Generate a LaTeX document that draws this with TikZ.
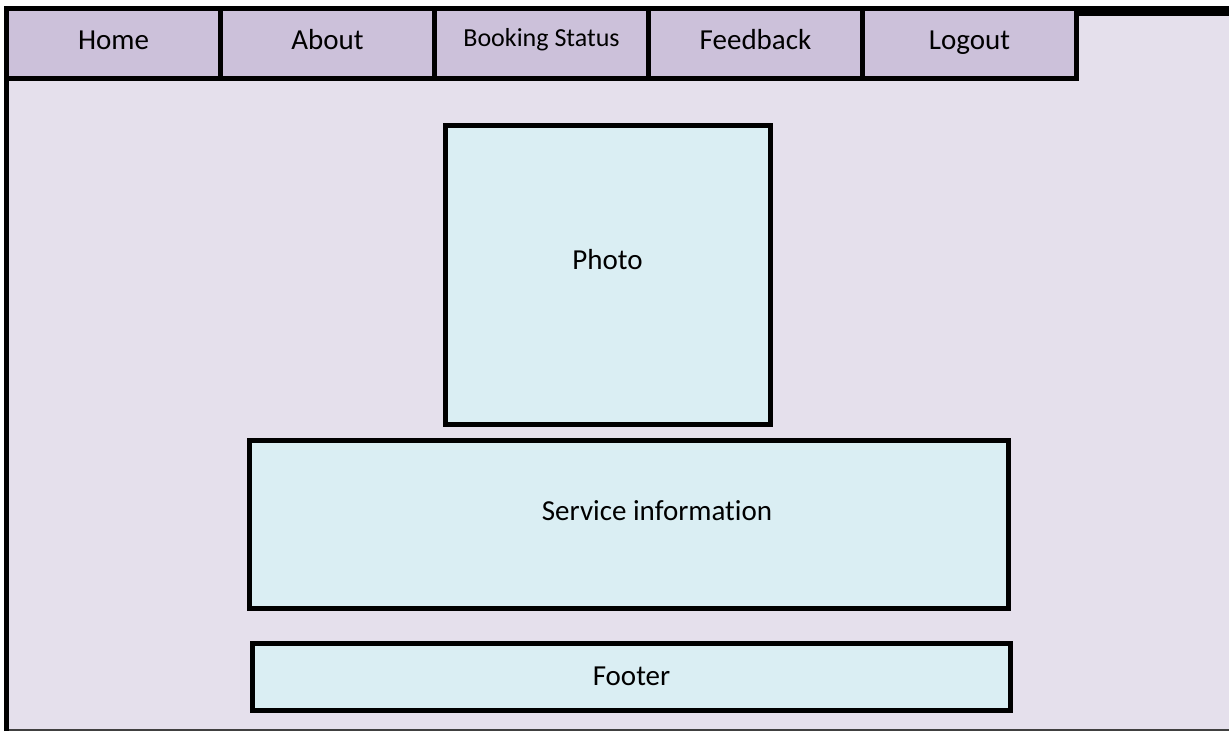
\documentclass[tikz,border=0pt]{standalone}
\usepackage{fontspec}
\setmainfont{Carlito}[Ligatures={NoCommon}]
\definecolor{tabfill}{HTML}{CCC1DA}
\definecolor{pagefill}{HTML}{E5E0EC}
\definecolor{boxfill}{HTML}{DAEEF3}
\definecolor{edgegray}{HTML}{404040}
\begin{document}
\begin{tikzpicture}[x=1pt,y=-1pt,
  tabbox/.style={draw=black, line width=5pt, fill=tabfill, minimum width=214pt, minimum height=70.5pt, inner sep=0pt, outer sep=0pt, anchor=north west},
  panel/.style={draw=black, line width=5pt, fill=boxfill, inner sep=0pt, outer sep=0pt, anchor=north west},
  lbl/.style={anchor=base, inner sep=0pt, font=\fontsize{29}{35}\selectfont},
  smalllbl/.style={anchor=base, inner sep=0pt, font=\fontsize{26}{31}\selectfont}
]
\useasboundingbox (0,0) rectangle (1229,731);
% page
\fill[pagefill] (6.5,8) rectangle (1229,731);
\draw[edgegray, line width=1.5pt] (6.5,730) -- (1229,730);
\draw[black, line width=5pt] (6.5,731) -- (6.5,8);
\draw[black, line width=5pt] (4,8) -- (1229,8);
% tabs
\node[tabbox] (home) at (6.5,8) {};
\node[tabbox] (about) at (220.5,8) {};
\node[tabbox] (booking) at (434.5,8) {};
\node[tabbox] (feedback) at (648.5,8) {};
\node[tabbox] (logout) at (862.5,8) {};
\coordinate (edgeR) at (1229,13);
\draw[black, line width=5pt] (logout.north east |- edgeR) -- (edgeR);
\node[lbl] (thome) at ([yshift=-6.25pt]home.center) {Home};
\node[lbl] (tabout) at ([yshift=-6.25pt]about.center) {About};
\node[smalllbl] (tbooking) at ([yshift=-2.75pt]booking.center) {Booking Status};
\node[lbl] (tfeedback) at ([yshift=-6.25pt]feedback.center) {Feedback};
\node[lbl] (tlogout) at ([yshift=-6.25pt]logout.center) {Logout};
% content boxes
\node[panel, minimum width=325pt, minimum height=298.5pt] (photo) at (445,125.5) {};
\node[panel, minimum width=759pt, minimum height=167.5pt] (service) at (249.5,440.5) {};
\node[panel, minimum width=758pt, minimum height=67pt] (footer) at (252.5,643.5) {};
\node[lbl] (tphoto) at ([yshift=5.75pt]photo.center) {Photo};
\node[lbl] (tservice) at ([xshift=28pt,yshift=4.25pt]service.center) {Service information};
\node[lbl] (tfooter) at ([yshift=-8pt]footer.center) {Footer};
\end{tikzpicture}
\end{document}
